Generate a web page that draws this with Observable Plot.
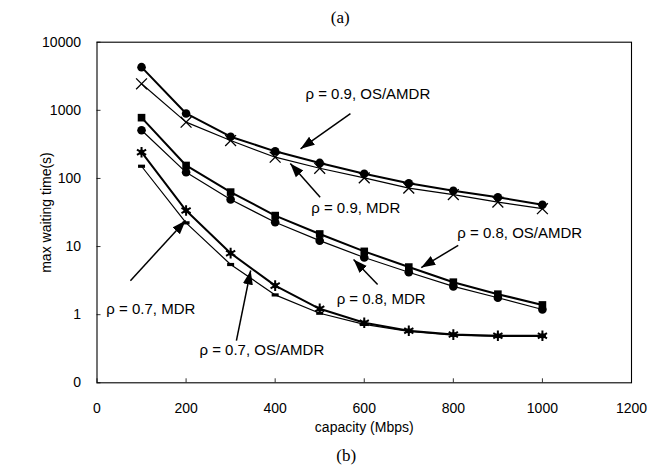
<!DOCTYPE html>
<html><head><meta charset="utf-8">
<script src="https://cdn.jsdelivr.net/npm/d3@7"></script>
<script src="https://cdn.jsdelivr.net/npm/@observablehq/plot@0.6"></script>
<style>body{margin:0;background:#fff}</style>
</head><body><div id="chart"></div>
<script>
// ---- data ----
const capacity = [100, 200, 300, 400, 500, 600, 700, 800, 900, 1000];
const rho09OsAmdr = [4300, 900, 410, 250, 169, 117, 85, 66, 53, 41];
const rho09Mdr    = [2450, 670, 360, 205, 141, 102, 72, 58, 45, 36];
const rho08OsAmdr = [780, 155, 63, 28.5, 15.3, 8.5, 5.0, 3.0, 2.0, 1.39];
const rho08Mdr    = [510, 123, 49, 22.7, 12.2, 6.9, 4.2, 2.6, 1.77, 1.19];
const rho07OsAmdr = [243, 33.8, 8.0, 2.67, 1.22, 0.76, 0.58, 0.51, 0.49, 0.49];
const rho07Mdr    = [151, 22.3, 5.45, 1.95, 1.05, 0.72, 0.57, 0.50, 0.48, 0.48];

const xTicks = [0, 200, 400, 600, 800, 1000, 1200];
const yTicks = [0.1, 1, 10, 100, 1000, 10000];

const labelText = ["ρ = 0.9, OS/AMDR", "ρ = 0.9, MDR", "ρ = 0.8, OS/AMDR", "ρ = 0.8, MDR", "ρ = 0.7, MDR", "ρ = 0.7, OS/AMDR"];
const labelX = [468, 481, 809, 538, 21, 230];
const labelY = [1746, 36.1, 15.7, 1.71, 1.22, 0.297];

const arrowX1 = [569, 501, 811, 630, 75, 313];
const arrowY1 = [897, 53, 10.4, 2.77, 3.16, 0.417];
const arrowX2 = [457, 434, 728, 576, 199, 345];
const arrowY2 = [272, 166, 4.92, 6.47, 24.1, 4.45];

// ---- tables ----
const series = [
  {name: "0.9 OS/AMDR", values: rho09OsAmdr, sym: "circle", w: 2},
  {name: "0.9 MDR", values: rho09Mdr, sym: "times", w: 1.2},
  {name: "0.8 OS/AMDR", values: rho08OsAmdr, sym: "square", w: 2},
  {name: "0.8 MDR", values: rho08Mdr, sym: "circle", w: 1.2},
  {name: "0.7 OS/AMDR", values: rho07OsAmdr, sym: "star", w: 2},
  {name: "0.7 MDR", values: rho07Mdr, sym: "dash", w: 1.2}
];
const rowsOf = s => capacity.map((c, i) => ({capacity: c, value: s.values[i]}));
const labels = labelText.map((t, i) => ({t, x: labelX[i], y: labelY[i]}));
const arrows = arrowX1.map((x1, i) => ({x1, y1: arrowY1[i], x2: arrowX2[i], y2: arrowY2[i]}));

const dashSymbol = {draw(ctx) { ctx.rect(-3.5, -1.6, 7, 3.2); }};

function triangleMarker(color) {
  const m = d3.create("svg:marker")
    .attr("viewBox", "-10 -5 10 10")
    .attr("markerWidth", 14).attr("markerHeight", 14)
    .attr("markerUnits", "userSpaceOnUse")
    .attr("orient", "auto")
    .attr("fill", color).attr("stroke", "none");
  m.append("path").attr("d", "M-10,-3.6L0,0L-10,3.6Z");
  return m.node();
}

const W = 671, H = 475;
const mL = 96.5, mR = 40, mT = 41.7, mB = 92.7;
const plotW = W - mL - mR, plotH = H - mT - mB;

const marks = [];
for (const s of series) {
  const rows = rowsOf(s);
  marks.push(Plot.line(rows, {x: "capacity", y: "value", stroke: "black", strokeWidth: s.w}));
}
for (const s of series) {
  const rows = rowsOf(s);
  if (s.sym === "circle") marks.push(Plot.dot(rows, {x: "capacity", y: "value", symbol: "circle", r: 4.3, fill: "black"}));
  else if (s.sym === "square") marks.push(Plot.dot(rows, {x: "capacity", y: "value", symbol: "square", r: 4.3, fill: "black"}));
  else if (s.sym === "times") marks.push(Plot.dot(rows, {x: "capacity", y: "value", symbol: "times", r: 5, stroke: "black", strokeWidth: 1.3}));
  else if (s.sym === "star") {
    marks.push(Plot.dot(rows, {x: "capacity", y: "value", symbol: "asterisk", r: 5, stroke: "black", strokeWidth: 2}));
    marks.push(Plot.dot(rows, {x: "capacity", y: "value", r: 2.6, fill: "black"}));
  }
  else if (s.sym === "dash") marks.push(Plot.dot(rows, {x: "capacity", y: "value", symbol: dashSymbol, fill: "black"}));
}

const chart = Plot.plot({
  width: W, height: H,
  marginLeft: mL, marginRight: mR, marginTop: mT, marginBottom: mB,
  style: {fontFamily: "'Liberation Sans', Arial, sans-serif", fontSize: "14px", background: "white", color: "black"},
  x: {domain: [0, 1200]},
  y: {type: "log", domain: [0.1, 10000]},
  marks: [
    Plot.axisX({ticks: xTicks, tickSize: 0, tickPadding: 20, label: null, fontSize: 14, tickFormat: d => String(d)}),
    Plot.axisY({ticks: yTicks, tickSize: 0, tickPadding: 16, label: null, fontSize: 14,
      tickFormat: d => d < 1 ? "0" : String(d)}),
    Plot.tickX(xTicks, {x: d => d, stroke: "#333", insetTop: plotH - 4}),
    Plot.tickY(yTicks, {y: d => d, stroke: "#333", insetRight: plotW - 4}),
    ...marks,
    Plot.link(arrows, {x1: "x1", y1: "y1", x2: "x2", y2: "y2", stroke: "black", strokeWidth: 1.5, markerEnd: triangleMarker}),
    Plot.text(labels, {x: "x", y: "y", text: "t", textAnchor: "start", fontSize: 15, fill: "black"}),
    Plot.frame({stroke: "black", strokeWidth: 1.1}),
    Plot.text(["max waiting time(s)"], {frameAnchor: "left", dx: -50, rotate: -90, textAnchor: "middle", fontSize: 14, fill: "black"}),
    Plot.text(["capacity (Mbps)"], {frameAnchor: "bottom", dy: 49, fontSize: 14, fill: "black"}),
    Plot.text(["(a)"], {frameAnchor: "top", dy: -31, dx: -24, fontSize: 17, fontFamily: "'Liberation Serif', 'Times New Roman', serif", fill: "black"}),
    Plot.text(["(b)"], {frameAnchor: "bottom", dy: 78, dx: -18, fontSize: 17, fontFamily: "'Liberation Serif', 'Times New Roman', serif", fill: "black"})
  ]
});
document.getElementById("chart").append(chart);
</script>
</body></html>
